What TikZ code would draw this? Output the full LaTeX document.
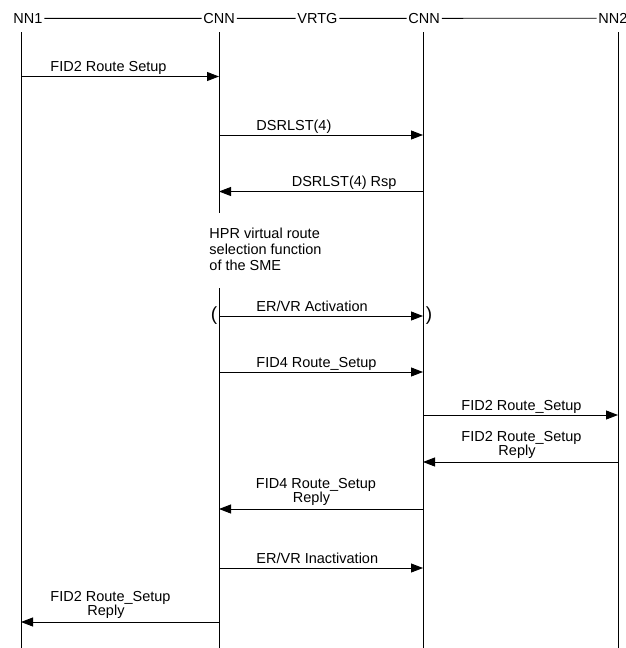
\documentclass[tikz,border=0pt]{standalone}
\usepackage{fontspec}
\setmainfont{Liberation Sans}
\usetikzlibrary{arrows.meta}
\begin{document}
\begin{tikzpicture}[x=1pt,y=-1pt,line width=0.9pt,>={Triangle[length=12pt,width=9pt]},
  every node/.style={inner sep=0pt,font=\fontsize{14.5}{14}\selectfont},
  head/.style={anchor=base west,inner sep=1.5pt},
  msg/.style={->},
  lbl/.style={anchor=base west},
  lblr/.style={anchor=base east},
  lbltwo/.style={anchor=south,align=center}]
  \useasboundingbox (0,0) rectangle (626,648);
  % header row
  \node[head] (nn1) at (11.5,23.3) {NN1};
  \node[head] (cnn1) at (201.5,23.3) {CNN};
  \node[head] (vrtg) at (295.5,23.3) {VRTG};
  \node[head] (cnn2) at (406.5,23.3) {CNN};
  \node[head] (nn2) at (596.5,23.3) {NN2};
  \draw (nn1.east) -- (cnn1.west) (cnn1.east) -- (vrtg.west)
        (vrtg.east) -- (cnn2.west) (cnn2.east) -- (nn2.west);
  % lifelines
  \foreach \l/\x in {a/21,b/219,c/423,d/618}{
    \coordinate (\l-top) at (\x,32);
    \coordinate (\l-bot) at (\x,648);
  }
  \coordinate (b-gap1) at (219,213);
  \coordinate (b-gap2) at (219,288);
  \draw (a-top) -- (a-bot) (c-top) -- (c-bot) (d-top) -- (d-bot);
  \draw (b-top) -- (b-gap1) (b-gap2) -- (b-bot);
  % message rows
  \foreach \r/\y in {1/76.5,2/135,3/191.5,4/316,5/372,6/415,7/462,8/509,9/568,10/622}
    \foreach \l/\x in {a/21,b/219,c/423,d/618}
      \coordinate (\l\r) at (\x,\y);
  \draw[msg] (a1) -- (b1);
  \node[lbl] (m1) at (50,71.8) {FID2 Route Setup};
  \draw[msg] (b2) -- (c2);
  \node[lbl] (m2) at (256,130.3) {DSRLST(4)};
  \draw[msg] (c3) -- (b3);
  \node[lblr] (m3) at (397,186.8) {DSRLST(4) Rsp};
  \node[anchor=north west,align=left,font=\fontsize{14.5}{16}\selectfont] (hpr) at (209,227.5)
    {HPR virtual route\\selection function\\of the SME};
  \draw[msg] (b4) -- (c4);
  \node[lbl] (m4) at (256,311.3) {ER/VR Activation};
  \node[font=\fontsize{19}{19}\selectfont] (po) at (214,316) {(};
  \node[font=\fontsize{19}{19}\selectfont] (pc) at (429,316) {)};
  \draw[msg] (b5) -- (c5);
  \node[lbl] (m5) at (256,367.3) {FID4 Route\_Setup};
  \draw[msg] (c6) -- (d6);
  \node[lbl] (m6) at (461,410.3) {FID2 Route\_Setup};
  \draw[msg] (d7) -- (c7);
  \node[lbltwo] (m7) at (521.5,459) {FID2 Route\_Setup\\Reply\hspace*{9pt}};
  \draw[msg] (c8) -- (b8);
  \node[lbltwo] (m8) at (316,506) {FID4 Route\_Setup\\Reply\hspace*{9pt}};
  \draw[msg] (b9) -- (c9);
  \node[lbl] (m9) at (256,563.3) {ER/VR Inactivation};
  \draw[msg] (b10) -- (a10);
  \node[lbltwo] (m10) at (110.5,619) {FID2 Route\_Setup\\Reply\hspace*{9pt}};
\end{tikzpicture}
\end{document}
